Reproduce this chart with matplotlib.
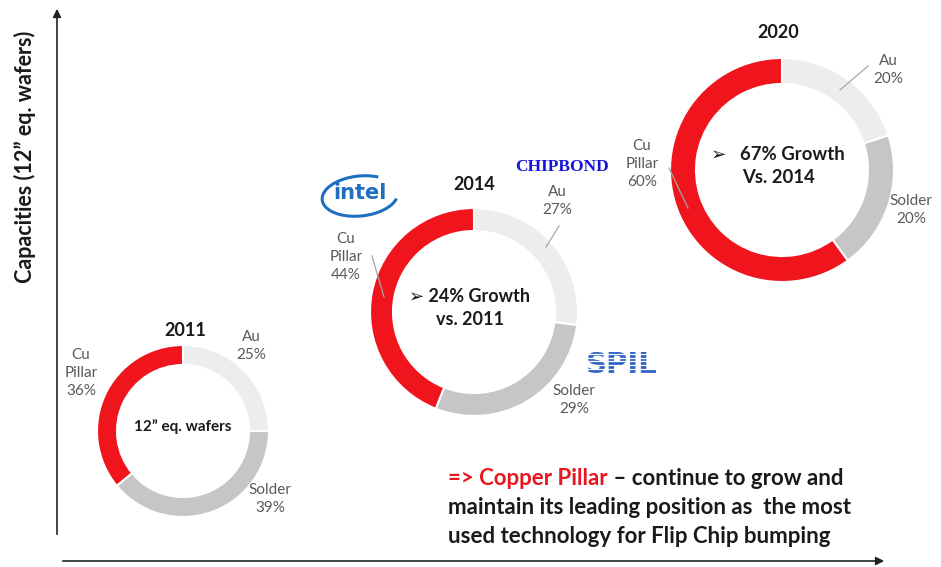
import matplotlib.pyplot as plt
from matplotlib.patches import Arc

plt.rcParams['font.family'] = ['Lato', 'DejaVu Sans']

years = ["2011", "2014", "2020"]
segments = ["Au", "Solder", "Cu Pillar"]
shares = {
    "2011": [25, 39, 36],
    "2014": [27, 29, 44],
    "2020": [20, 20, 60],
}
centre_texts = ["12\u201d eq. wafers", "\u27a2 24% Growth\nvs. 2011", "\u27a2   67% Growth\nVs. 2014"]
y_label = "Capacities (12\u201d eq. wafers)"

colors = ["#ededed", "#c6c6c6", "#f0141c"]
label_color = "#595959"

W, H = 941, 567
fig = plt.figure(figsize=(W / 100, H / 100), dpi=100)
ax = fig.add_axes([0, 0, 1, 1])

# donut placement in pixel space (y measured from top)
donuts = {
    "2011": dict(c=(183, 431), r=86, w=20, fs=11),
    "2014": dict(c=(474, 312), r=104, w=23, fs=13),
    "2020": dict(c=(782, 170), r=112, w=26, fs=13.3),
}

for yr, txt in zip(years, centre_texts):
    d = donuts[yr]
    cx, cy = d["c"][0], H - d["c"][1]
    ax.pie(shares[yr], colors=colors, startangle=90, counterclock=False,
           center=(cx, cy), radius=d["r"],
           wedgeprops=dict(width=d["w"], edgecolor="white", linewidth=1.5))
    ax.text(cx - (4 if yr != "2011" else 0), cy + 4, txt, ha="center", va="center",
            fontsize=d["fs"], fontweight="bold", color="#1a1a1a", linespacing=1.45,
            family=["Lato", "DejaVu Sans"])

# year titles
for yr, (x, y) in zip(years, [(185, 331), (474, 184), (778, 32)]):
    ax.text(x, H - y, yr, ha="center", va="center", fontsize=13, fontweight="bold", color="#1a1a1a")

# segment labels
seg_labels = [
    ("Au\n25%", 251, 346), ("Cu\nPillar\n36%", 81, 373), ("Solder\n39%", 270, 499),
    ("Au\n27%", 557, 201), ("Cu\nPillar\n44%", 346, 257), ("Solder\n29%", 574, 400),
    ("Au\n20%", 888, 70), ("Cu\nPillar\n60%", 642, 164), ("Solder\n20%", 911, 210),
]
for t, x, y in seg_labels:
    ax.text(x, H - y, t, ha="center", va="center", fontsize=11, color=label_color, linespacing=1.4)

# leader lines
for (x0, y0, x1, y1) in [(546, 247, 559, 226), (372, 256, 384, 297),
                         (840, 90, 868, 66), (669, 168, 688, 208)]:
    ax.plot([x0, x1], [H - y0, H - y1], color="#a6a6a6", lw=0.9)

# logos
ax.add_patch(Arc((360, H - 196), 76, 40, angle=6, theta1=40, theta2=350, color="#1f6fc0", lw=2.2))
ax.text(360, H - 193, "intel", ha="center", va="center", fontsize=15, fontweight="bold",
        color="#1f6fc0", family=["DejaVu Sans"])
ax.text(562, H - 167, "CHIPBOND", ha="center", va="center", fontsize=12.5, fontweight="bold",
        color="#1414d8", family=["Liberation Serif"])
ax.text(622, H - 365, "SPIL", ha="center", va="center", fontsize=21, fontweight="bold",
        color="#2f62c6", family=["DejaVu Sans"])
for k in range(7):
    yy = H - (354 + k * 3.7)
    ax.plot([584, 662], [yy, yy], color="white", lw=0.9, zorder=5)

# axes arrows
ax.annotate("", xy=(57, H - 6), xytext=(57, H - 537),
            arrowprops=dict(arrowstyle="-|>", color="#222222", lw=1.2, mutation_scale=12))
ax.annotate("", xy=(887, H - 561), xytext=(60, H - 561),
            arrowprops=dict(arrowstyle="-|>", color="#222222", lw=1.2, mutation_scale=12))
ax.text(25, H - 157, y_label, rotation=90, ha="center", va="center", fontsize=15.5,
        fontweight="bold", color="#1a1a1a")

# conclusion text
red = ax.text(448, H - 485, "=> Copper Pillar", ha="left", va="baseline", fontsize=16,
              fontweight="bold", color="#e8161e")
ax.annotate(" \u2013 continue to grow and", xy=(1, 0), xycoords=red, ha="left", va="bottom",
            fontsize=16, fontweight="bold", color="#1a1a1a")
ax.text(448, H - 514, "maintain its leading position as  the most", ha="left", va="baseline",
        fontsize=16, fontweight="bold", color="#1a1a1a")
ax.text(448, H - 543, "used technology for Flip Chip bumping", ha="left", va="baseline",
        fontsize=16, fontweight="bold", color="#1a1a1a")

ax.set_xlim(0, W)
ax.set_ylim(0, H)
ax.set_aspect("equal")
ax.axis("off")

fig.savefig("out.png", dpi=100, facecolor="white")
